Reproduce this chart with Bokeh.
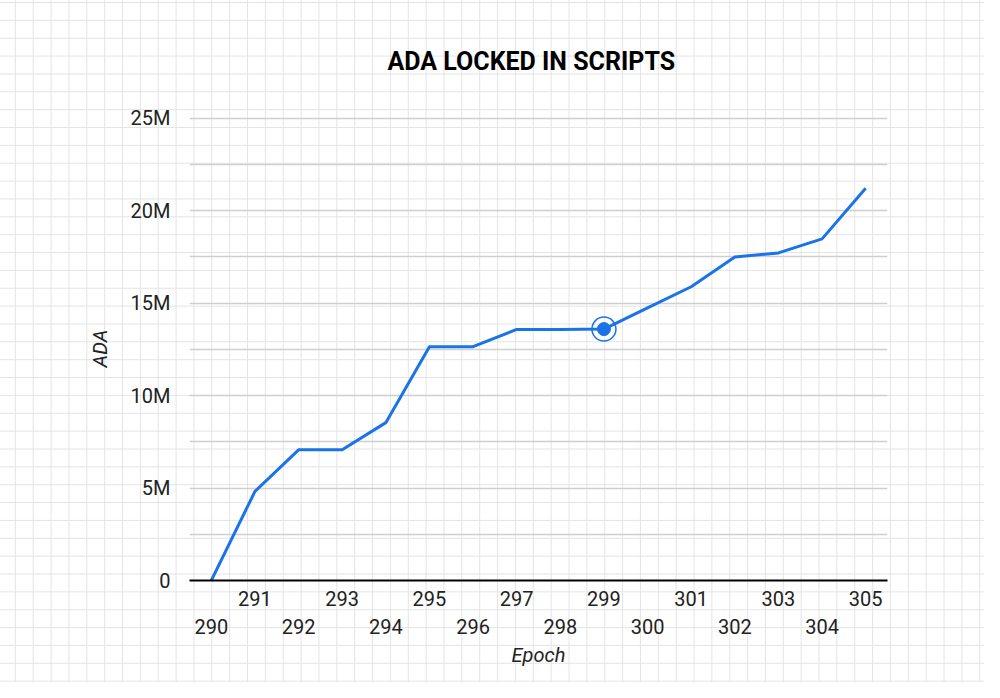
from bokeh.plotting import figure
from bokeh.models import Range1d, FixedTicker, LinearAxis
from bokeh.embed import file_html
from bokeh.resources import INLINE

# ---- data ----
epochs = [290, 291, 292, 293, 294, 295, 296, 297, 298, 299, 300, 301, 302, 303, 304, 305]
ada_locked = [0, 4.82e6, 7.07e6, 7.07e6, 8.54e6, 12.65e6, 12.65e6, 13.58e6, 13.58e6,
              13.60e6, 14.75e6, 15.89e6, 17.50e6, 17.72e6, 18.48e6, 21.22e6]
highlight_epoch = [299]
highlight_value = [13.60e6]
y_ticks = [0, 5e6, 10e6, 15e6, 20e6, 25e6]
y_tick_labels = ["0", "5M", "10M", "15M", "20M", "25M"]
y_grid_ticks = [0, 2.5e6, 5e6, 7.5e6, 10e6, 12.5e6, 15e6, 17.5e6, 20e6, 22.5e6, 25e6]
odd_epochs = epochs[1::2]
even_epochs = epochs[0::2]
title_text = "ADA LOCKED IN SCRIPTS"

FONT = "Roboto"
BLUE = "#1a73e8"
LABEL = "#222222"

p = figure(width=984, height=682, output_backend="svg", toolbar_location=None,
           x_range=Range1d(289.5, 305.5), y_range=Range1d(0, 25.1e6),
           title=title_text,
           min_border_left=189, min_border_right=97, min_border_top=116, min_border_bottom=102)

xa = p.below[0]
ya = p.left[0]

# transparent canvas, graph-paper pattern as CSS background of the figure element
p.background_fill_color = None
p.border_fill_color = None
p.outline_line_color = None
p.styles = {
    "background-color": "white",
    "background-image": ("linear-gradient(to right, #e4e4e4 1px, transparent 1px), "
                         "linear-gradient(to bottom, #e4e4e4 1px, transparent 1px)"),
    "background-size": "17.86px 17.86px",
    "background-position": "14.86px 2px",
}

# title
p.title.align = "left"
p.title.offset = 198
p.title.vertical_align = "bottom"
p.title.text_font = FONT
p.title.text_font_size = "25px"
p.title.text_font_style = "bold"
p.title.text_color = "#000000"
p.title.standoff = 82

# grids
p.xgrid.visible = False
p.ygrid.ticker = FixedTicker(ticks=y_grid_ticks)
p.ygrid.grid_line_color = "#cfcfcf"
p.ygrid.grid_line_width = 1.3

# y axis
ya.ticker = FixedTicker(ticks=y_ticks)
ya.major_label_overrides = {t: l for t, l in zip(y_ticks, y_tick_labels)}
ya.axis_line_color = None
ya.major_tick_line_color = None
ya.major_tick_out = 0
ya.major_tick_in = 0
ya.minor_tick_line_color = None
ya.minor_tick_out = 0
ya.major_label_standoff = 19
ya.major_label_text_font = FONT
ya.major_label_text_font_size = "20px"
ya.major_label_text_color = LABEL
ya.axis_label = "ADA"
ya.axis_label_text_font = FONT
ya.axis_label_text_font_size = "20px"
ya.axis_label_text_font_style = "italic"
ya.axis_label_text_color = LABEL
ya.axis_label_standoff = 16

# x axis (odd epochs, top row)
xa.ticker = FixedTicker(ticks=odd_epochs)
xa.axis_line_color = "#000000"
xa.axis_line_width = 2
xa.major_tick_line_color = None
xa.major_tick_out = 0
xa.major_tick_in = 0
xa.minor_tick_line_color = None
xa.minor_tick_out = 0
xa.major_label_standoff = 10
xa.major_label_text_font = FONT
xa.major_label_text_font_size = "20px"
xa.major_label_text_color = LABEL

# second x axis (even epochs, bottom row)
xb = LinearAxis(ticker=FixedTicker(ticks=even_epochs))
xb.axis_line_color = None
xb.major_tick_line_color = None
xb.major_tick_out = 0
xb.major_tick_in = 0
xb.minor_tick_line_color = None
xb.minor_tick_out = 0
xb.major_label_standoff = 10
xb.major_label_text_font = FONT
xb.major_label_text_font_size = "20px"
xb.major_label_text_color = LABEL
xb.axis_label = "Epoch"
xb.axis_label_text_font = FONT
xb.axis_label_text_font_size = "20px"
xb.axis_label_text_font_style = "italic"
xb.axis_label_text_color = LABEL
xb.axis_label_standoff = 6
p.add_layout(xb, "below")

# data
p.line(epochs, ada_locked, line_color=BLUE, line_width=3, line_join="round")
p.scatter(highlight_epoch, highlight_value, size=13, fill_color=BLUE, line_color=BLUE)
p.scatter(highlight_epoch, highlight_value, size=24, fill_color=None, line_color=BLUE, line_width=1.5)

open("out.html", "w").write(file_html(p, INLINE))
